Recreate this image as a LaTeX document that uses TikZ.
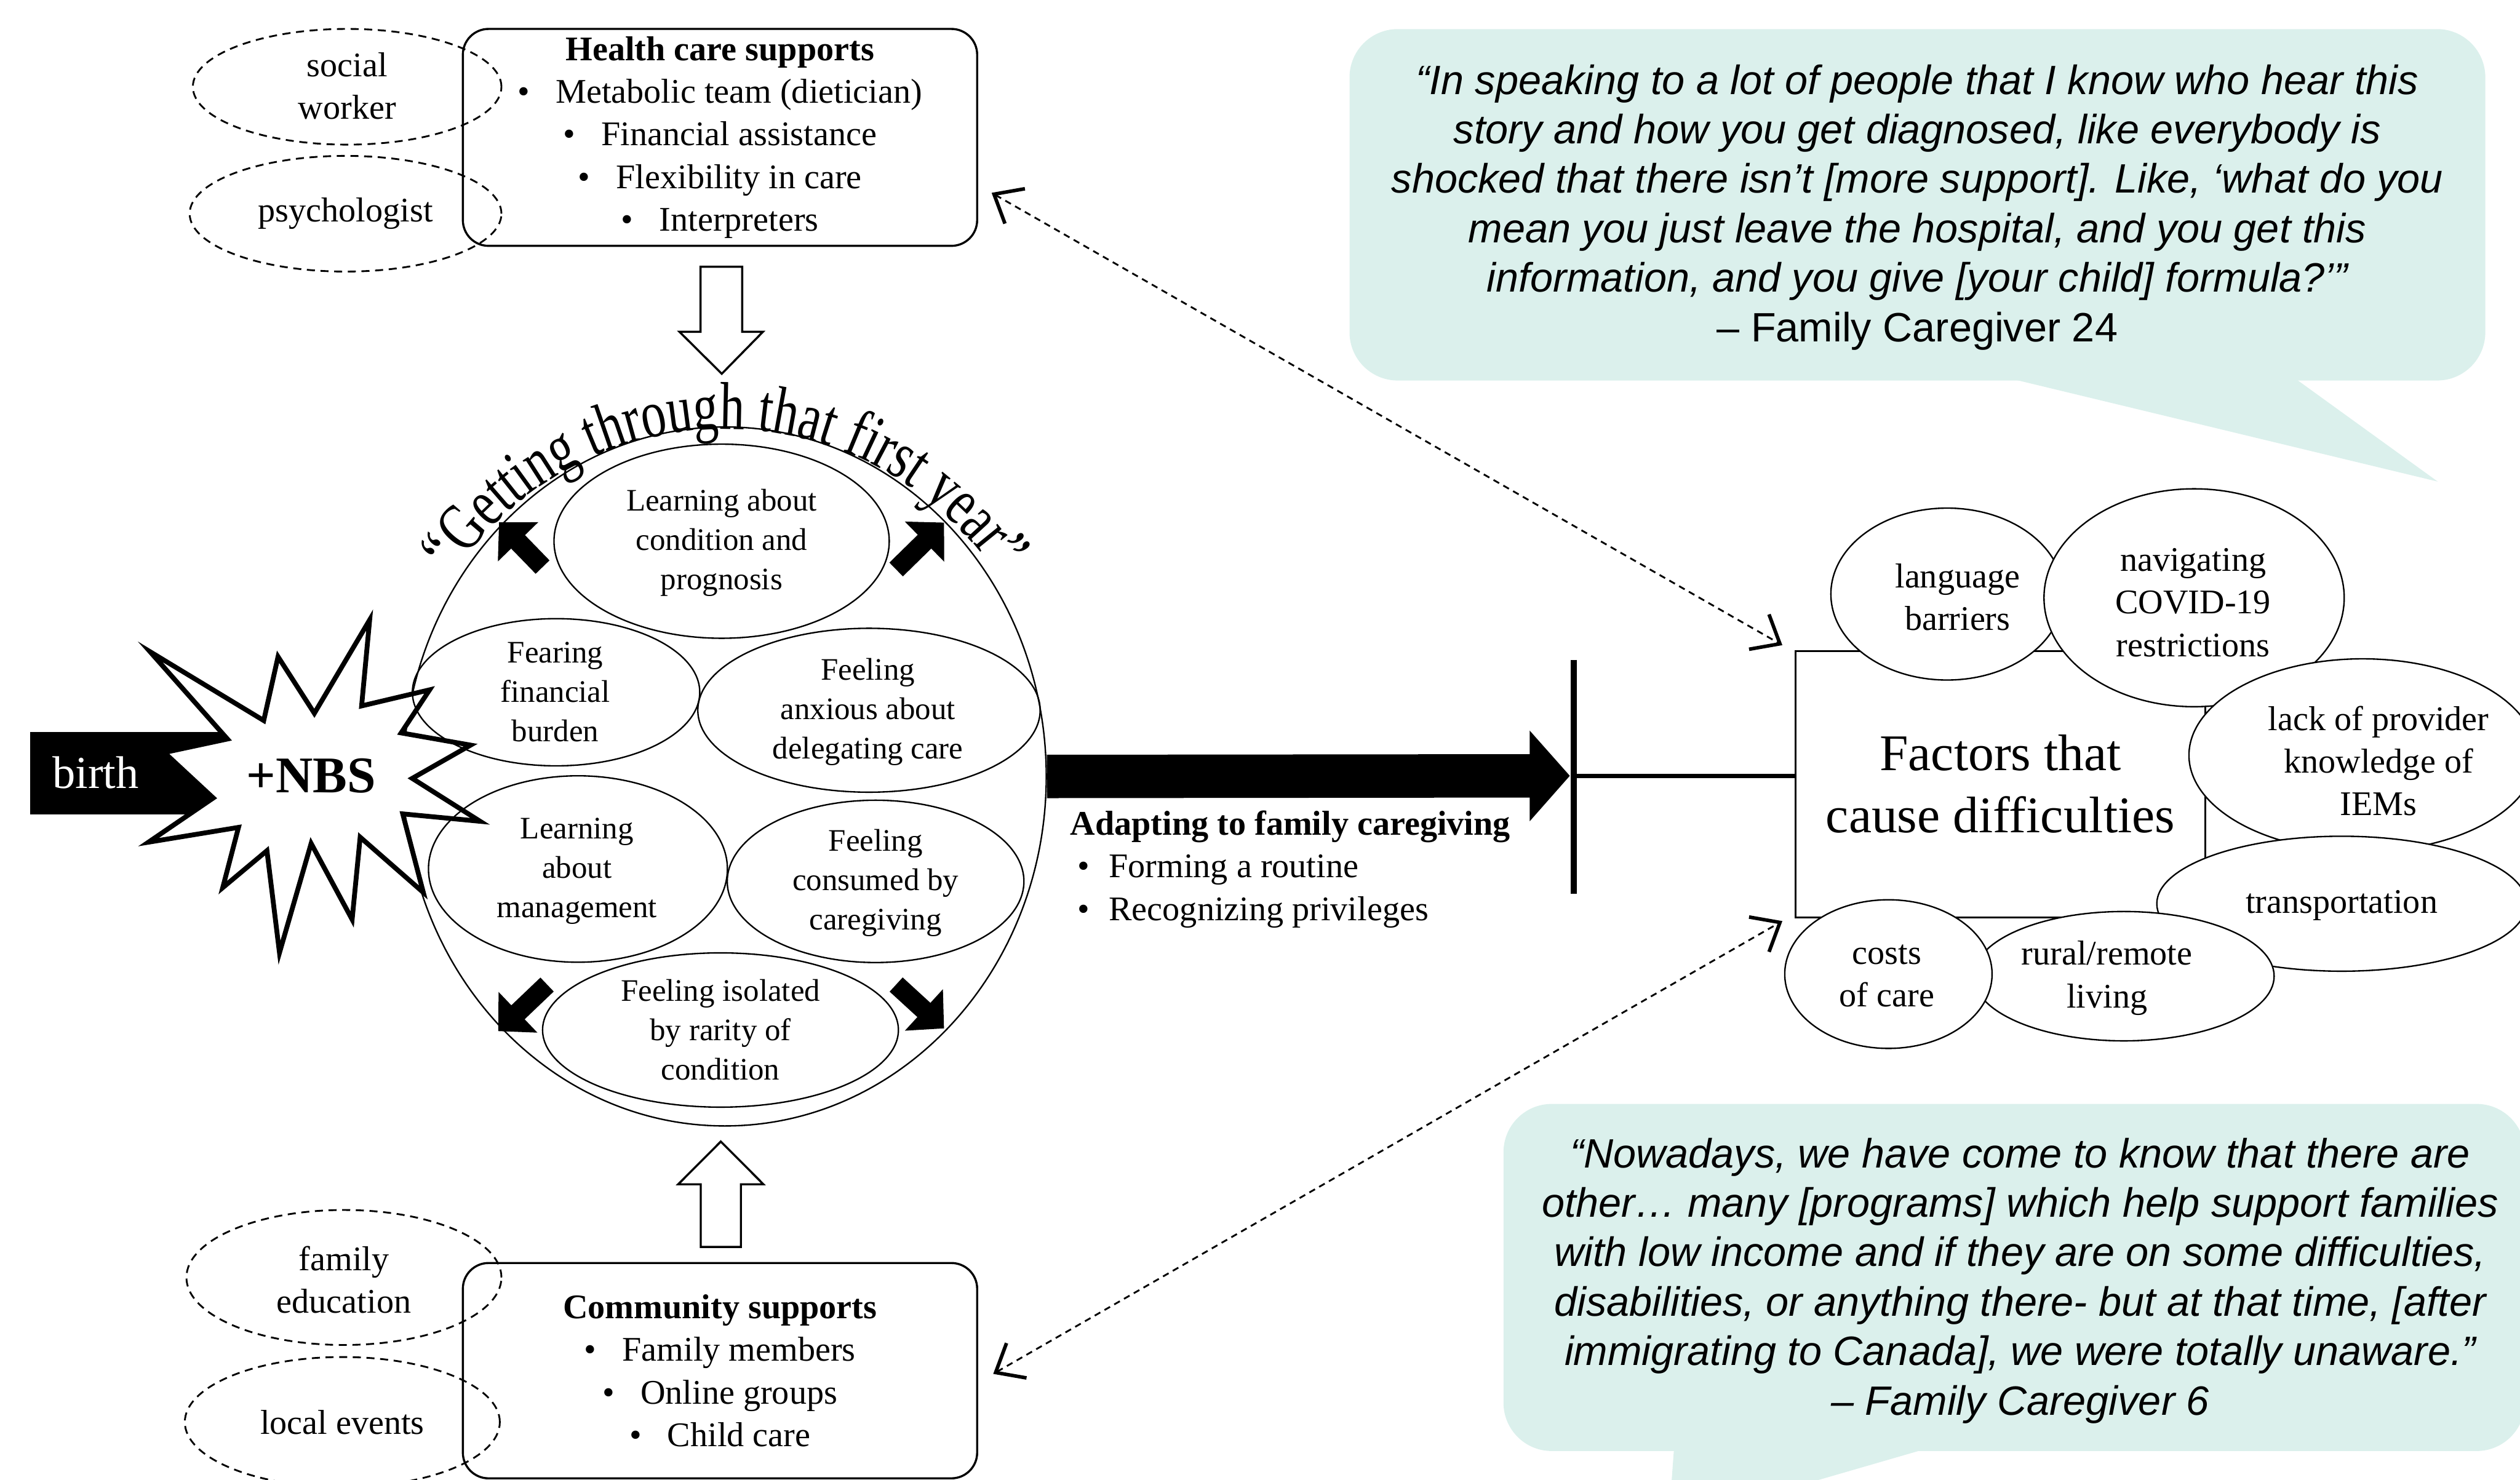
\documentclass[tikz,border=0pt]{standalone}
\usepackage{fontspec}
\setmainfont{Liberation Serif}
\newfontfamily\quotefont{Liberation Sans}
\newfontfamily\arcfont[FakeStretch=0.74]{Liberation Serif}
\usetikzlibrary{shapes.geometric,arrows.meta,decorations.text}
\definecolor{bubble}{RGB}{219,240,236}
\begin{document}
\begin{tikzpicture}[x=1pt,y=-1pt,
  txt/.style={font=\fontsize{21.5}{26.5}\selectfont, align=center, inner sep=0pt},
  intxt/.style={font=\fontsize{19.5}{24.5}\selectfont, align=center, inner sep=0pt},
  ell/.style={draw, ellipse, line width=0.9pt, inner sep=0pt},
  fell/.style={draw, ellipse, line width=0.9pt, inner sep=0pt, fill=white},
  dell/.style={draw, ellipse, dash pattern=on 5pt off 3.5pt, line width=1.1pt, inner sep=0pt},
  supbox/.style={draw, rounded corners=16pt, line width=1.3pt, inner sep=0pt},
  dasharrow/.style={line width=1.1pt, dash pattern=on 4pt off 3pt,
     {Straight Barb[length=15pt,width=25pt,line width=2.2pt]}-{Straight Barb[length=15pt,width=25pt,line width=2.2pt]}},
  blkarrow/.style={line width=12pt, -{Triangle[length=17pt,width=34pt]}},
  hollow/.style={draw, line width=1.3pt, fill=white, line join=miter},
  qtext/.style={font=\quotefont\itshape\fontsize{25.5}{30.8}\selectfont, align=center, inner sep=0pt}
]
\useasboundingbox (0,0) rectangle (1568,921);

% ---------- speech bubbles ----------
\fill[bubble, rounded corners=30pt] (839.7,18.1) rectangle (1546.4,236.8);
\fill[bubble] (1252.6,236) -- (1516.8,299.7) -- (1428.7,236) -- cycle;
\node[qtext] (q1) at (1193,129) {“In speaking to a lot of people that I know who hear this\\
story and how you get diagnosed, like everybody is\\
shocked that there isn’t [more support]. Like, ‘what do you\\
mean you just leave the hospital, and you get this\\
information, and you give [your child] formula?’”\\
{\upshape – Family Caregiver 24}};

\fill[bubble, rounded corners=30pt] (935.5,687) rectangle (1571,903);
\fill[bubble] (1041.7,900) -- (1204,900) -- (1100.5,930) -- (1039.5,930) -- cycle;
\node[qtext] (q2) at (1257,797) {“Nowadays, we have come to know that there are\\
other… many [programs] which help support families\\
with low income and if they are on some difficulties,\\
disabilities, or anything there- but at that time, [after\\
immigrating to Canada], we were totally unaware.”\\
– Family Caregiver 6};

% ---------- birth + NBS ----------
\node[fill=black, minimum width=131.3, minimum height=51.2, inner sep=0pt, anchor=north west] (birthbar) at (18.7,455.3) {};
\node[text=white, font=\fontsize{28.5}{30}\selectfont, inner sep=0pt] (birth) at (59.5,481) {birth};

% ---------- big circle ----------
\node[ell, minimum width=400, minimum height=435] (circ) at (451,483.2) {};

\draw[line width=3pt, fill=white] (93.4,405.6) -- (164.1,448.4) -- (173.0,408.7) -- (195.6,443.9) -- (230.0,385.8) -- (225.0,439.3) -- (267.3,429.3) -- (249.6,456.1) -- (292.8,463.7) -- (256.5,484.4) -- (298.7,511.1) -- (250.6,506.5) -- (263.4,555.4) -- (224.1,521.0) -- (219.1,572.2) -- (193.6,524.9) -- (173.9,592.9) -- (166.1,529.4) -- (138.6,552.4) -- (148.4,514.9) -- (92.4,524.1) -- (132.7,496.6) -- (102.2,468.3) -- (141.5,459.9) -- cycle;
\node[font=\bfseries\fontsize{32}{34}\selectfont, inner sep=0pt] (nbs) at (193.6,483) {+NBS};

% inner ellipses
\node[ell, minimum width=208.6, minimum height=120.8] (e1) at (449,336.8) {};
\node[intxt] (e1t) at (449,337.6) {Learning about\\condition and\\prognosis};
\node[ell, minimum width=178.8, minimum height=91.6] (e2) at (346,430.8) {};
\node[intxt] (e2t) at (345.5,430.8) {Fearing\\financial\\burden};
\node[ell, minimum width=213, minimum height=102] (e3) at (540.7,442) {};
\node[intxt] (e3t) at (540,443) {Feeling\\anxious about\\delegating care};
\node[ell, minimum width=186, minimum height=116] (e4) at (359.6,540.8) {};
\node[intxt] (e4t) at (359,542) {Learning\\about\\management};
\node[ell, minimum width=184.6, minimum height=101] (e5) at (544.8,548.5) {};
\node[intxt] (e5t) at (544.8,549.5) {Feeling\\consumed by\\caregiving};
\node[ell, minimum width=221.4, minimum height=96] (e6) at (448.3,641) {};
\node[intxt] (e6t) at (448.3,641) {Feeling isolated\\by rarity of\\condition};

% diagonal block arrows
\coordinate (ulS) at (337.6,352.9); \coordinate (ulE) at (310.5,325);
\coordinate (urS) at (557.6,354.4); \coordinate (urE) at (587.4,325.2);
\coordinate (llS) at (340.4,612.7); \coordinate (llE) at (310,641.7);
\coordinate (lrS) at (557.6,612.7); \coordinate (lrE) at (587.4,640);
\draw[blkarrow] (ulS) -- (ulE);
\draw[blkarrow] (urS) -- (urE);
\draw[blkarrow] (llS) -- (llE);
\draw[blkarrow] (lrS) -- (lrE);

% curved title
\coordinate (arcS) at (275.2,368.5);
\path[decorate, decoration={text along path, text align=center,
  text={|\arcfont\fontsize{42}{44}\selectfont|“Getting through that first year”}}]
  (arcS) arc[start angle=150, end angle=30, radius=203pt];

% ---------- health care supports ----------
\node[dell, minimum width=192, minimum height=72] (sw) at (216,54) {};
\node[txt] (swt) at (216,53.5) {social\\worker};
\node[dell, minimum width=194, minimum height=72] (psy) at (215,133) {};
\node[txt] (psyt) at (215,133) {psychologist};
\node[supbox, txt, minimum width=320, minimum height=135] (hcs) at (448,85.5)
  {\textbf{Health care supports}\\
   \textbullet\hspace{0.75em}Metabolic team (dietician)\\
   \textbullet\hspace{0.75em}Financial assistance\\
   \textbullet\hspace{0.75em}Flexibility in care\\
   \textbullet\hspace{0.75em}Interpreters};
\draw[hollow] (435.9,166) -- (461.8,166) -- (461.8,206.5) -- (474.7,206.5) -- (449.1,232.6) -- (422.8,206.5) -- (435.9,206.5) -- cycle;

% ---------- community supports ----------
\node[dell, minimum width=196, minimum height=84] (fe) at (214,795) {};
\node[txt] (fet) at (214,796.5) {family\\education};
\node[dell, minimum width=196, minimum height=81] (le) at (213,885) {};
\node[txt] (let) at (213,885) {local events};
\node[supbox, txt, minimum width=320, minimum height=134] (cs) at (448,853)
  {\textbf{Community supports}\\
   \textbullet\hspace{0.75em}Family members\\
   \textbullet\hspace{0.75em}Online groups\\
   \textbullet\hspace{0.75em}Child care};
\draw[hollow] (448.5,710.4) -- (475,737) -- (461,737) -- (461,776) -- (436,776) -- (436,737) -- (422,737) -- cycle;

% ---------- adapting arrow ----------
\coordinate (adtip) at (976.8,482.8);
\draw[line width=27pt, -{Triangle[length=25pt,width=55pt]}] (circ.east) -- (adtip);
\node[txt, align=left, anchor=west] (adapt) at (665.8,541)
  {\textbf{Adapting to family caregiving}\\
   \hspace*{4.5pt}\textbullet\hspace{12pt}Forming a routine\\
   \hspace*{4.5pt}\textbullet\hspace{12pt}Recognizing privileges};
\coordinate (bartop) at (979.2,410.7);
\coordinate (barbot) at (979.2,556.2);
\coordinate (barmid) at (979.2,483);
\draw[line width=3.5pt] (bartop) -- (barbot);

% ---------- factors ----------
\node[draw, line width=1pt, minimum width=255, minimum height=165.7, inner sep=0pt,
  font=\fontsize{32}{38.7}\selectfont, align=center] (fac) at (1244.7,488) {Factors that\\cause difficulties};
\draw[line width=2.5pt] (barmid) -- (barmid -| fac.west);

\node[fell, minimum width=144.6, minimum height=107] (lang) at (1211.5,369.7) {};
\node[txt] (langt) at (1218,371.5) {language\\barriers};
\node[fell, minimum width=186.8, minimum height=135.6] (covid) at (1365.2,372) {};
\node[txt] (covidt) at (1364.6,375) {navigating\\COVID-19\\restrictions};
\node[fell, minimum width=216, minimum height=120] (iem) at (1470,470) {};
\node[txt] (iemt) at (1480,473.5) {lack of provider\\knowledge of\\IEMs};
\node[fell, minimum width=230, minimum height=84] (trans) at (1457,562.4) {};
\node[txt] (transt) at (1457,563.6) {transportation};
\node[fell, minimum width=187, minimum height=80.5] (rural) at (1321.5,607.5) {};
\node[txt] (ruralt) at (1311,608.7) {rural/remote\\living};
\node[fell, minimum width=129, minimum height=92.5] (cost) at (1175,606.2) {};
\node[txt] (costt) at (1174,607.4) {costs\\of care};

% ---------- dashed connectors ----------
\coordinate (hq) at (617,120);
\coordinate (fq1) at (1109,401.5);
\coordinate (cq) at (618,855);
\coordinate (fq2) at (1109,573.2);
\draw[dasharrow] (hq) -- (fq1);
\draw[dasharrow] (cq) -- (fq2);
\end{tikzpicture}
\end{document}
